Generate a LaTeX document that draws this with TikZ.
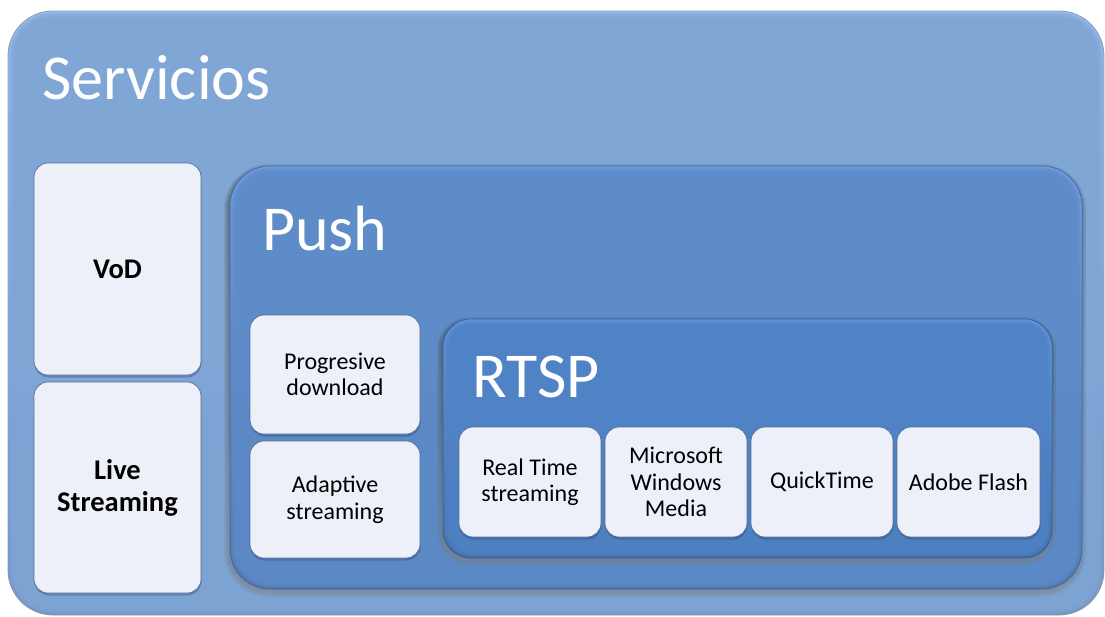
\documentclass[tikz,border=0pt]{standalone}
\usepackage{fontspec}
\setmainfont{Carlito}
\usetikzlibrary{fit,calc}

\definecolor{outerMain}{RGB}{128,166,214}
\definecolor{outerTop}{RGB}{152,192,244}
\definecolor{outerBot}{RGB}{112,148,198}
\definecolor{outerLine}{RGB}{138,152,172}
\definecolor{pushMain}{RGB}{94,140,200}
\definecolor{pushTop}{RGB}{112,162,230}
\definecolor{pushBot}{RGB}{78,116,172}
\definecolor{rtspMain}{RGB}{80,131,197}
\definecolor{rtspTop}{RGB}{100,154,228}
\definecolor{rtspBot}{RGB}{66,106,162}
\definecolor{leafFill}{RGB}{238,240,249}
\definecolor{leafLine}{RGB}{82,110,152}
\definecolor{shade}{RGB}{30,50,90}

% soft shadow under a rounded box: x1 y1 x2 y2 radius
\newcommand\softshadow[5]{%
  \foreach \k in {0,...,5}{%
    \fill[shade, opacity=0.06, rounded corners={#5pt+\k pt}]
      (#1-\k-1, #2-\k+3) rectangle (#3+\k-1, #4+\k+3);}}
% inner bevel: layers of the body colour fading in from the rim
\newcommand\bevel[7]{%
  \foreach \k in {1,...,#7}{%
    \fill[#6, opacity=0.3, rounded corners={#5pt-\k pt}]
      (#1+\k, #2+\k) rectangle (#3-\k, #4-\k);}}

\tikzset{
  x=1pt, y=-1pt,
  frame/.style={rectangle, inner sep=0pt, outer sep=0pt},
  title/.style={text=white, font=\fontsize{64}{64}\selectfont, inner sep=0pt, anchor=base west},
  leaf/.style={rectangle, inner sep=0pt, outer sep=0pt, rounded corners=14pt,
    fill=leafFill, draw=leafLine, line width=0.7pt,
    preaction={fill=shade, opacity=0.28, transform canvas={shift={(0.5,2.5)}}}},
  leaftext/.style={inner sep=0pt, align=center, font=\fontsize{24}{26.5}\selectfont},
  leafbold/.style={leaftext, font=\bfseries\fontsize{28.5}{32}\selectfont}
}

\begin{document}
\begin{tikzpicture}
\useasboundingbox (0,0) rectangle (1105,616);

% outer container
\node[frame, fit={(8,11) (1104,615)}, rounded corners=45pt, draw=outerLine, line width=0.8pt,
  top color=outerTop, bottom color=outerBot] (serv) {};
\bevel{8}{11}{1104}{615}{45}{outerMain}{9}
\node[title] (servT) at (42,99) {Servicios};

% left column
\node[leaf, fit={(34,163) (201,375)}] (vod) {};
\node[leafbold] (vodT) at (vod.center) {VoD};
\node[leaf, fit={(34,382) (201,593)}] (live) {};
\node[leafbold] (liveT) at (live.center) {Live\\Streaming};

% Push container
\softshadow{230}{166}{1082}{589}{40}
\node[frame, fit={(230,166) (1082,589)}, rounded corners=40pt, draw=pushBot!80!black, line width=0.5pt,
  top color=pushTop, bottom color=pushBot] (push) {};
\bevel{230}{166}{1082}{589}{40}{pushMain}{9}
\node[title] (pushT) at (262,250) {Push};

\node[leaf, fit={(250,315) (420,434)}] (prog) {};
\node[leaftext] (progT) at (prog.center) {Progresive\\download};
\node[leaf, fit={(250,441) (420,558)}] (adapt) {};
\node[leaftext] (adaptT) at (adapt.center) {Adaptive\\streaming};

% RTSP container
\softshadow{443}{319}{1052}{558}{28}
\node[frame, fit={(443,319) (1052,558)}, rounded corners=28pt, draw=rtspBot!80!black, line width=0.5pt,
  top color=rtspTop, bottom color=rtspBot] (rtsp) {};
\bevel{443}{319}{1052}{558}{28}{rtspMain}{7}
\node[title] (rtspT) at (472,397) {RTSP};

\node[leaf, fit={(459,427) (601,537)}] (rts) {};
\node[leaftext] (rtsT) at (rts.center) {Real Time\\streaming};
\node[leaf, fit={(605,427) (747,537)}] (msw) {};
\node[leaftext] (mswT) at (msw.center) {Microsoft\\Windows\\Media};
\node[leaf, fit={(751,427) (893,537)}] (qt) {};
\node[leaftext] (qtT) at (qt.center) {QuickTime};
\node[leaf, fit={(897,427) (1040,537)}] (flash) {};
\node[leaftext] (flashT) at (flash.center) {Adobe Flash};
\end{tikzpicture}
\end{document}
